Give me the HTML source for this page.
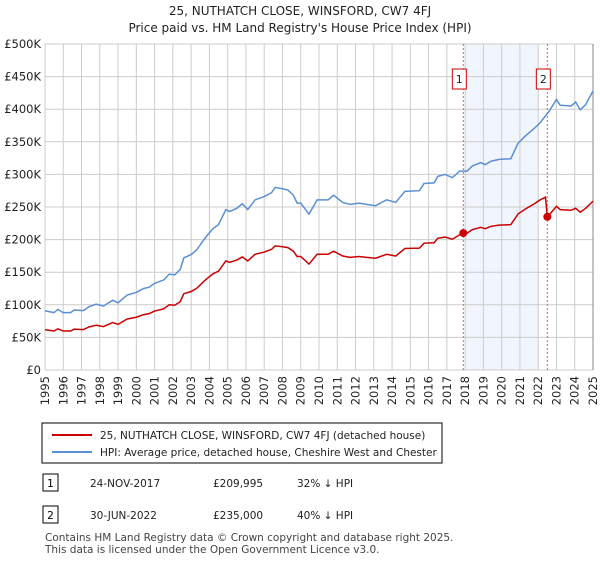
<!DOCTYPE html>
<html><head><meta charset="utf-8"><style>
body{margin:0;background:#fff;font-family:"Liberation Sans","DejaVu Sans",sans-serif;}
svg text{font-family:"DejaVu Sans","Liberation Sans",sans-serif;}
</style></head><body>
<svg id="c" width="600" height="560" xmlns="http://www.w3.org/2000/svg">
<text x="300" y="15" text-anchor="middle" font-size="12" fill="#222">25, NUTHATCH CLOSE, WINSFORD, CW7 4FJ</text>
<text x="300" y="32" text-anchor="middle" font-size="12" fill="#222">Price paid vs. HM Land Registry's House Price Index (HPI)</text>
<g id="plot"></g>
<rect x="42" y="423" width="400" height="40" fill="#fff" stroke="#000" stroke-width="1"/>
<line x1="52" y1="435" x2="92" y2="435" stroke="#cc0000" stroke-width="2"/>
<text x="100" y="439" font-size="10.5" fill="#222">25, NUTHATCH CLOSE, WINSFORD, CW7 4FJ (detached house)</text>
<line x1="52" y1="452" x2="92" y2="452" stroke="#5b8fd4" stroke-width="2"/>
<text x="100" y="456" font-size="10.5" fill="#222">HPI: Average price, detached house, Cheshire West and Chester</text>
<rect x="43" y="474" width="15" height="17" fill="#fff" stroke="#000"/>
<text x="50.5" y="487" text-anchor="middle" font-size="10.5">1</text>
<text x="90" y="487" font-size="10.5" fill="#222">24-NOV-2017</text>
<text x="213" y="487" font-size="10.5" fill="#222">£209,995</text>
<text x="297" y="487" font-size="10.5" fill="#222">32% ↓ HPI</text>
<rect x="43" y="506" width="15" height="17" fill="#fff" stroke="#000"/>
<text x="50.5" y="519" text-anchor="middle" font-size="10.5">2</text>
<text x="90" y="519" font-size="10.5" fill="#222">30-JUN-2022</text>
<text x="213" y="519" font-size="10.5" fill="#222">£235,000</text>
<text x="297" y="519" font-size="10.5" fill="#222">40% ↓ HPI</text>
<text x="45" y="541" font-size="10.5" fill="#444">Contains HM Land Registry data © Crown copyright and database right 2025.</text>
<text x="45" y="553" font-size="10.5" fill="#444">This data is licensed under the Open Government Licence v3.0.</text>
</svg>
<script>
const hpiYears=[1995,1995.5,1995.7,1996,1996.4,1996.6,1997.1,1997.4,1997.8,1998.2,1998.7,1999,1999.5,2000,2000.4,2000.7,2001,2001.5,2001.8,2002.1,2002.4,2002.6,2003,2003.3,2003.7,2003.9,2004.2,2004.5,2004.9,2005.1,2005.5,2005.8,2006.1,2006.5,2007,2007.4,2007.6,2008,2008.3,2008.6,2008.8,2009,2009.45,2009.9,2010.5,2010.8,2011.3,2011.7,2012.2,2012.6,2013.1,2013.7,2014.2,2014.7,2015.5,2015.75,2016.3,2016.5,2016.9,2017.3,2017.7,2018.1,2018.4,2018.85,2019.1,2019.4,2019.85,2020.5,2020.9,2021.3,2021.8,2022.1,2022.6,2023,2023.2,2023.8,2024.05,2024.3,2024.6,2025];
const hpiValues=[90.7,88,93,88,88,92,91,97,101,98,107,103,115,119,125,127,133,138,147,146,154,172,177,184,200,207,217,223,246,243,248,255,246,261,266,272,280,278,276,268,256,256,239,261,261,268,257,254,256,254,252,261,257,274,275,286,287,297,300,295,305,305,313,318,315,320,323,324,348,359,371,379,397,415,406,405,411,399,407,428];
const priceYears=[1995,1995.5,1995.7,1996,1996.4,1996.6,1997.1,1997.4,1997.8,1998.2,1998.7,1999,1999.5,2000,2000.4,2000.7,2001,2001.5,2001.8,2002.1,2002.4,2002.6,2003,2003.3,2003.7,2003.9,2004.2,2004.5,2004.9,2005.1,2005.5,2005.8,2006.1,2006.5,2007,2007.4,2007.6,2008,2008.3,2008.6,2008.8,2009,2009.45,2009.9,2010.5,2010.8,2011.3,2011.7,2012.2,2012.6,2013.1,2013.7,2014.2,2014.7,2015.5,2015.75,2016.3,2016.5,2016.9,2017.3,2017.7,2017.9,2018.1,2018.4,2018.85,2019.1,2019.4,2019.85,2020.5,2020.9,2021.3,2021.8,2022.1,2022.4,2022.5,2022.6,2023,2023.2,2023.8,2024.05,2024.3,2024.6,2025];
const priceValues=[61.7,59.8,63.2,59.8,59.8,62.6,61.9,66,68.7,66.6,72.8,70,78.2,80.9,85,86.4,90.4,93.8,100,99.3,104.7,117,120.4,125.1,136,140.8,147.6,151.6,167.3,165.2,168.6,173.4,167.3,177.5,180.9,185,190.4,189,187.7,182.2,174.1,174.1,162.5,177.5,177.5,182.2,174.8,172.7,174.1,172.7,171.4,177.5,174.8,186.3,187,194.5,195.2,202,204,200.6,207.4,210,209.8,215.4,218.8,216.7,220.2,222.2,222.9,239.4,247,255.2,260.8,265,235,238,251,246,245,248,242,248,259];
const saleYears=[2017.9,2022.5];
const saleValues=[209.995,235];
const saleLabels=["1","2"];
const yTicks=[0,50,100,150,200,250,300,350,400,450,500];
const yTickLabels=["£0","£50K","£100K","£150K","£200K","£250K","£300K","£350K","£400K","£450K","£500K"];
const xTicks=[1995,1996,1997,1998,1999,2000,2001,2002,2003,2004,2005,2006,2007,2008,2009,2010,2011,2012,2013,2014,2015,2016,2017,2018,2019,2020,2021,2022,2023,2024,2025];

const L=45,R=593,T=44,B=370;
const X=y=>L+(y-1995)/30*(R-L);
const Y=v=>B-v/500*(B-T);
const NS="http://www.w3.org/2000/svg";
const g=document.getElementById('plot');
function mk(t,a){const e=document.createElementNS(NS,t);for(const k in a)e.setAttribute(k,a[k]);g.appendChild(e);return e;}
let e=mk('rect',{x:X(2018),y:T,width:X(2022)-X(2018),height:B-T,fill:'#eef3fc',opacity:0.8});


yTicks.forEach((v,i)=>{
 let l=mk('line',{x1:L,x2:R,y1:Y(v),y2:Y(v),stroke:'#cccccc','stroke-width':1});
 
 
 let t=mk('text',{x:L-4,y:Y(v)+4,'text-anchor':'end','font-size':'11.5',fill:'#222'});
 t.textContent=yTickLabels[i];
 
 
});
xTicks.forEach(y=>{
 let l=mk('line',{x1:X(y),x2:X(y),y1:T,y2:B,stroke:'#cccccc','stroke-width':1});
 
 
 let t=mk('text',{x:0,y:0,'text-anchor':'end','font-size':'11.5',fill:'#222',transform:`translate(${X(y)+4},${B+6}) rotate(-90)`});
 t.textContent=y;
 
 
});
let ax=mk('line',{x1:R,x2:R,y1:T,y2:B,stroke:'#888','stroke-width':1});


saleYears.forEach((y,i)=>{
 let l=mk('line',{x1:X(y),x2:X(y),y1:T,y2:B,stroke:'#e06060','stroke-width':1,'stroke-dasharray':'2,2'});
 
 
 let r=mk('rect',{x:X(y)-11,y:69,width:14,height:20,fill:'#fff',stroke:'#cc0000','stroke-width':1});
 
 
 let t=mk('text',{x:X(y)-4,y:83,'text-anchor':'middle','font-size':'11',fill:'#222'});
 t.textContent=saleLabels[i];
 
 
});
let hp=mk('polyline',{points:hpiYears.map((y,i)=>X(y)+','+Y(hpiValues[i])).join(' '),fill:'none',stroke:'#5b8fd4','stroke-width':1.5});


let pp=mk('polyline',{points:priceYears.map((y,i)=>X(y)+','+Y(priceValues[i])).join(' '),fill:'none',stroke:'#cc0000','stroke-width':1.5});


saleYears.forEach((y,i)=>{
 let c=mk('circle',{cx:X(y),cy:Y(saleValues[i]),r:4,fill:'#cc0000'});
 
 
});
</script>
</body></html>
